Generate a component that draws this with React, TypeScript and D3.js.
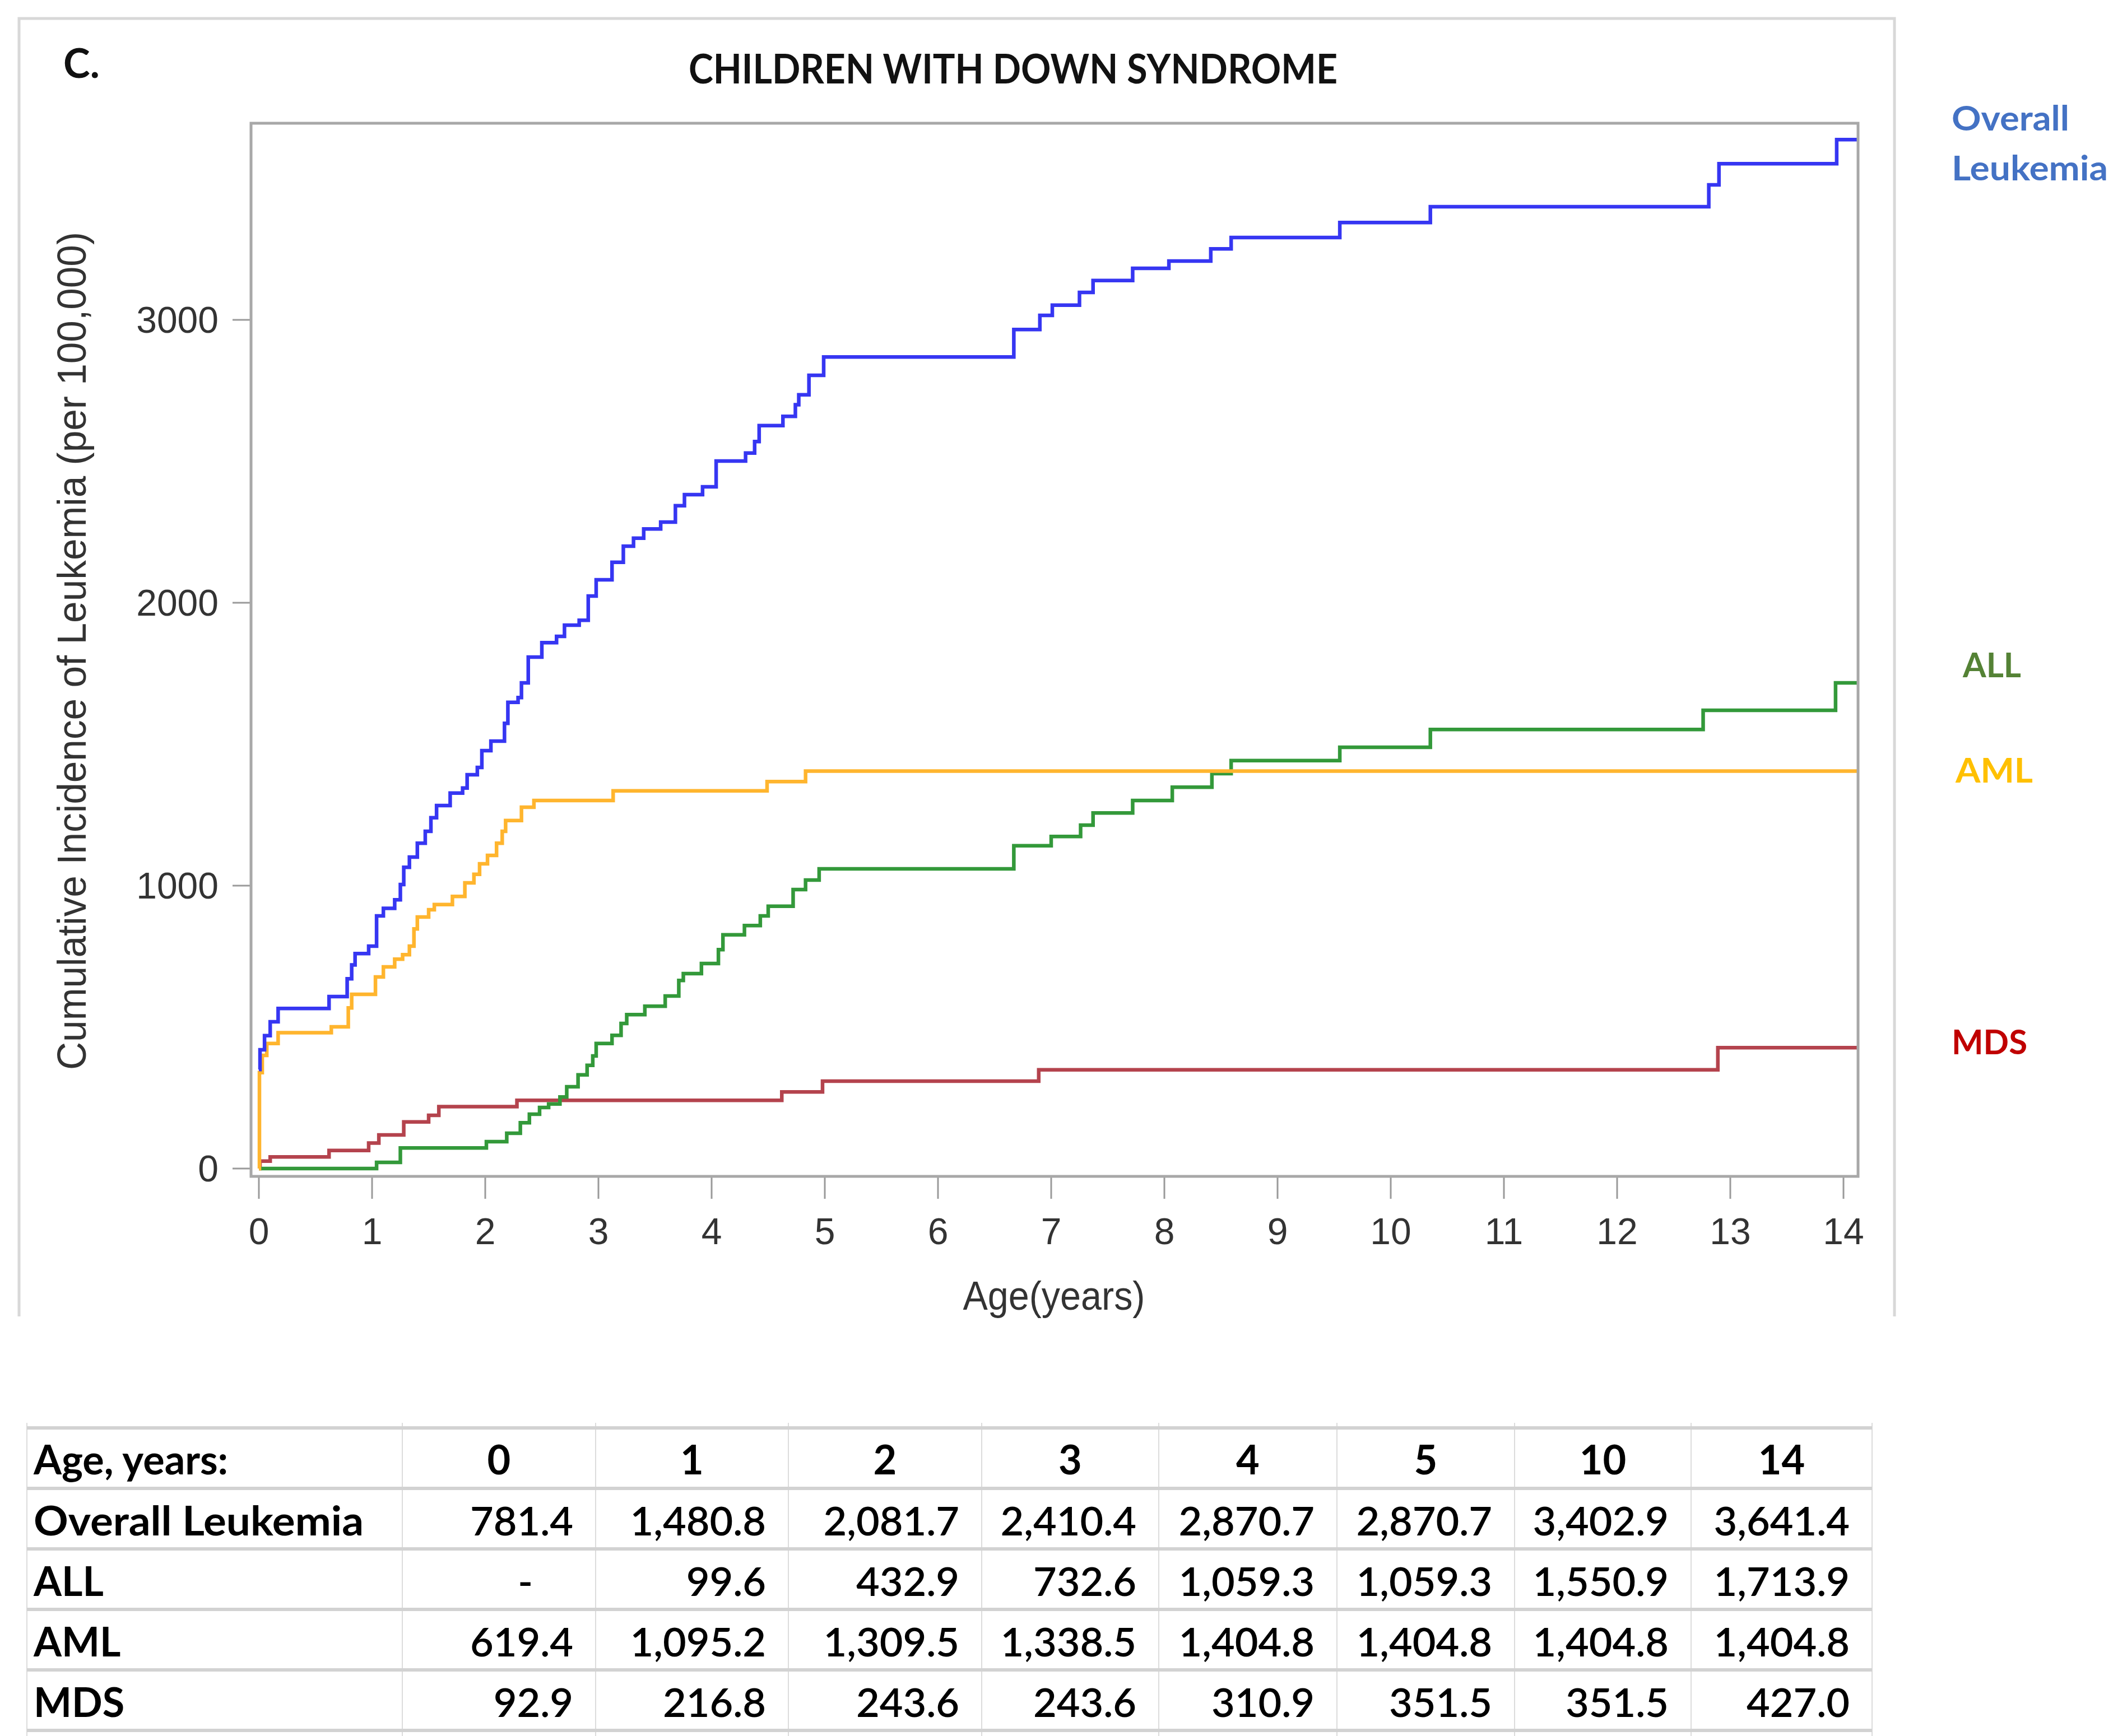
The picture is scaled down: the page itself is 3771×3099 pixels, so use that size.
import React from "react";
import * as d3 from "d3";

const W = 3771;
const H = 3099;

// Step data: [age (years), cumulative incidence per 100,000]
const overallSteps: [number, number][] = [
  [0, 350], [0.01, 420], [0.05, 470], [0.1, 519], [0.17, 566], [0.62, 608], [0.78, 671], [0.82, 720],
  [0.85, 760], [0.97, 786], [1.04, 893], [1.1, 920], [1.2, 950], [1.25, 1004], [1.28, 1065], [1.33, 1101],
  [1.4, 1150], [1.47, 1192], [1.52, 1240], [1.57, 1283], [1.69, 1327], [1.8, 1345], [1.84, 1392],
  [1.93, 1418], [1.97, 1477], [2.05, 1511], [2.17, 1574], [2.2, 1648], [2.29, 1665], [2.32, 1717],
  [2.38, 1808], [2.5, 1859], [2.63, 1881], [2.7, 1921], [2.83, 1938], [2.91, 2024], [2.98, 2081],
  [3.12, 2143], [3.22, 2200], [3.31, 2228], [3.4, 2261], [3.55, 2285], [3.68, 2343], [3.76, 2382],
  [3.92, 2410], [4.04, 2501], [4.3, 2529], [4.38, 2570], [4.42, 2626], [4.63, 2659], [4.74, 2700],
  [4.77, 2735], [4.86, 2804], [4.99, 2869], [6.67, 2966], [6.9, 3016], [7.01, 3052], [7.25, 3097],
  [7.37, 3139], [7.72, 3182], [8.04, 3208], [8.41, 3251], [8.59, 3291], [9.55, 3344], [10.35, 3400],
  [12.81, 3477], [12.9, 3552], [13.94, 3637], [14.12, 3637],
];

const amlSteps: [number, number][] = [
  [0, 0], [0.005, 339], [0.03, 400], [0.07, 442], [0.17, 480], [0.64, 501], [0.79, 568], [0.82, 616],
  [1.03, 677], [1.1, 713], [1.2, 740], [1.27, 756], [1.33, 786], [1.37, 847], [1.4, 889], [1.5, 915],
  [1.55, 933], [1.71, 962], [1.82, 1010], [1.9, 1040], [1.95, 1077], [2.02, 1107], [2.1, 1150],
  [2.15, 1192], [2.18, 1230], [2.32, 1277], [2.43, 1301], [3.13, 1335], [4.49, 1368], [4.83, 1404.8],
  [14.12, 1404.8],
];

const allSteps: [number, number][] = [
  [0, 0], [1.04, 22], [1.25, 73], [2.01, 95], [2.19, 125], [2.31, 162], [2.39, 192], [2.48, 216],
  [2.56, 228], [2.66, 253], [2.72, 289], [2.82, 331], [2.9, 365], [2.95, 398], [2.98, 442],
  [3.12, 471], [3.2, 513], [3.25, 544], [3.41, 574], [3.59, 610], [3.71, 665], [3.75, 689],
  [3.91, 725], [4.06, 774], [4.1, 826], [4.29, 859], [4.43, 893], [4.5, 927], [4.72, 986],
  [4.83, 1020], [4.95, 1059.3], [6.67, 1141], [7.0, 1174], [7.26, 1214], [7.37, 1257], [7.72, 1301],
  [8.07, 1348], [8.42, 1396], [8.59, 1442], [9.55, 1489], [10.35, 1552], [12.76, 1620], [13.93, 1717],
  [14.12, 1717],
];

const mdsSteps: [number, number][] = [
  [0, 0], [0.01, 26], [0.1, 41], [0.62, 64], [0.97, 90], [1.06, 119], [1.28, 165], [1.5, 188],
  [1.59, 219], [2.28, 241], [4.62, 271], [4.98, 309], [6.89, 349], [12.89, 427], [14.12, 427],
];

const xTicks = [0, 1, 2, 3, 4, 5, 6, 7, 8, 9, 10, 11, 12, 13, 14];
const yTicks = [0, 1000, 2000, 3000];

// Table
const tableAges = ["0", "1", "2", "3", "4", "5", "10", "14"];
const tableOverall = ["781.4", "1,480.8", "2,081.7", "2,410.4", "2,870.7", "2,870.7", "3,402.9", "3,641.4"];
const tableALL = ["-", "99.6", "432.9", "732.6", "1,059.3", "1,059.3", "1,550.9", "1,713.9"];
const tableAML = ["619.4", "1,095.2", "1,309.5", "1,338.5", "1,404.8", "1,404.8", "1,404.8", "1,404.8"];
const tableMDS = ["92.9", "216.8", "243.6", "243.6", "310.9", "351.5", "351.5", "427.0"];
const tableRowLabels = ["Overall Leukemia", "ALL", "AML", "MDS"];

const series = [
  { name: "MDS", data: mdsSteps, color: "#b4434d" },
  { name: "ALL", data: allSteps, color: "#33993a" },
  { name: "AML", data: amlSteps, color: "#ffb52e" },
  { name: "Overall Leukemia", data: overallSteps, color: "#3636f2" },
];

const CAL = "Lato, 'Open Sans', sans-serif";
const ARIAL = "'Liberation Sans', Arial, sans-serif";

export default function App() {
  const x = d3.scaleLinear().domain([0, 14]).range([462, 3290]);
  const y = d3.scaleLinear().domain([0, 3000]).range([2086, 571]);
  const line = d3
    .line<[number, number]>()
    .x((d) => x(d[0]))
    .y((d) => y(d[1]))
    .curve(d3.curveStepAfter);

  const frame = { left: 448, right: 3316, top: 220, bottom: 2100 };

  // table geometry
  const colX = [48, 718, 1063, 1407, 1752, 2068, 2386, 2703, 3018, 3341];
  const rowY = [2549, 2657, 2765, 2873, 2981, 3089];
  const rows = [tableOverall, tableALL, tableAML, tableMDS];

  return (
    <svg
      width={W}
      height={H}
      viewBox={`0 0 ${W} ${H}`}
      style={{ position: "absolute", left: 0, top: 0, display: "block", background: "#fff" }}
    >
      <rect x={0} y={0} width={W} height={H} fill="#fff" />
      {/* outer panel border */}
      <path d="M34,2350 L34,33 L3381,33 L3381,2350" fill="none" stroke="#d8d8d8" strokeWidth={5} />

      {/* titles */}
      <text x={113} y={139} fontFamily={CAL} fontWeight={700} fontSize={72} fill="#111">C.</text>
      <text
        x={1808}
        y={149}
        textAnchor="middle"
        fontFamily={CAL}
        fontWeight={700}
        fontSize={72}
        fill="#111"
        textLength={1158}
        lengthAdjust="spacingAndGlyphs"
      >
        CHILDREN WITH DOWN SYNDROME
      </text>

      {/* y axis ticks and labels */}
      {yTicks.map((t) => (
        <g key={"y" + t}>
          <line x1={415} x2={frame.left} y1={y(t)} y2={y(t)} stroke="#9a9a9a" strokeWidth={3} />
          <text x={390} y={y(t) + 23} textAnchor="end" fontFamily={ARIAL} fontSize={66} fill="#333">
            {t}
          </text>
        </g>
      ))}
      {/* x axis ticks and labels */}
      {xTicks.map((t) => (
        <g key={"x" + t}>
          <line x1={x(t)} x2={x(t)} y1={frame.bottom} y2={2140} stroke="#9a9a9a" strokeWidth={3} />
          <text x={x(t)} y={2221} textAnchor="middle" fontFamily={ARIAL} fontSize={66} fill="#333">
            {t}
          </text>
        </g>
      ))}

      {/* axis titles */}
      <text
        x={1881}
        y={2338}
        textAnchor="middle"
        fontFamily={ARIAL}
        fontSize={72}
        fill="#333"
        textLength={325}
        lengthAdjust="spacingAndGlyphs"
      >
        Age(years)
      </text>
      <text
        transform="translate(153,1162) rotate(-90)"
        textAnchor="middle"
        fontFamily={ARIAL}
        fontSize={72}
        fill="#333"
        textLength={1496}
        lengthAdjust="spacingAndGlyphs"
      >
        Cumulative Incidence of Leukemia (per 100,000)
      </text>

      {/* curves */}
      {series.map((s) => (
        <path key={s.name} d={line(s.data) || ""} fill="none" stroke={s.color} strokeWidth={6.5} />
      ))}

      {/* plot frame */}
      <rect
        x={frame.left}
        y={frame.top}
        width={frame.right - frame.left}
        height={frame.bottom - frame.top}
        fill="none"
        stroke="#a8a8a8"
        strokeWidth={5}
      />

      {/* curve labels */}
      <text x={3483} y={233} fontFamily={CAL} fontWeight={700} fontSize={62} fill="#4472c4" textLength={210} lengthAdjust="spacingAndGlyphs">Overall</text>
      <text x={3483} y={322} fontFamily={CAL} fontWeight={700} fontSize={62} fill="#4472c4" textLength={279} lengthAdjust="spacingAndGlyphs">Leukemia</text>
      <text x={3503} y={1209} fontFamily={CAL} fontWeight={700} fontSize={62} fill="#548235" textLength={104} lengthAdjust="spacingAndGlyphs">ALL</text>
      <text x={3490} y={1397} fontFamily={CAL} fontWeight={700} fontSize={62} fill="#ffc000" textLength={138} lengthAdjust="spacingAndGlyphs">AML</text>
      <text x={3483} y={1882} fontFamily={CAL} fontWeight={700} fontSize={62} fill="#c00000" textLength={135} lengthAdjust="spacingAndGlyphs">MDS</text>

      {/* table grid */}
      {colX.map((cx, i) => (
        <line key={"tv" + i} x1={cx} x2={cx} y1={2540} y2={3099} stroke="#dcdcdc" strokeWidth={2} />
      ))}
      {rowY.map((ry, i) => (
        <line key={"th" + i} x1={48} x2={3341} y1={ry} y2={ry} stroke="#d2d2d2" strokeWidth={6} />
      ))}

      {/* table header */}
      <text x={60} y={2632} fontFamily={CAL} fontWeight={700} fontSize={72} fill="#000">Age, years:</text>
      {tableAges.map((a, i) => (
        <text
          key={"ha" + i}
          x={(colX[i + 1] + colX[i + 2]) / 2}
          y={2632}
          textAnchor="middle"
          fontFamily={CAL}
          fontWeight={700}
          fontSize={72}
          fill="#000"
        >
          {a}
        </text>
      ))}
      {/* table body */}
      {rows.map((vals, r) => (
        <g key={"r" + r}>
          <text
            x={60}
            y={rowY[r + 1] + 84}
            fontFamily={CAL}
            fontWeight={700}
            fontSize={72}
            fill="#000"
            textLength={r === 0 ? 589 : undefined}
            lengthAdjust="spacingAndGlyphs"
          >
            {tableRowLabels[r]}
          </text>
          {vals.map((v, i) => (
            <text
              key={"v" + i}
              x={v === "-" ? colX[i + 2] - 112 : colX[i + 2] - 40}
              y={rowY[r + 1] + 84}
              textAnchor="end"
              fontFamily={CAL}
              fontWeight={600}
              fontSize={72}
              fill="#000"
            >
              {v}
            </text>
          ))}
        </g>
      ))}
    </svg>
  );
}
